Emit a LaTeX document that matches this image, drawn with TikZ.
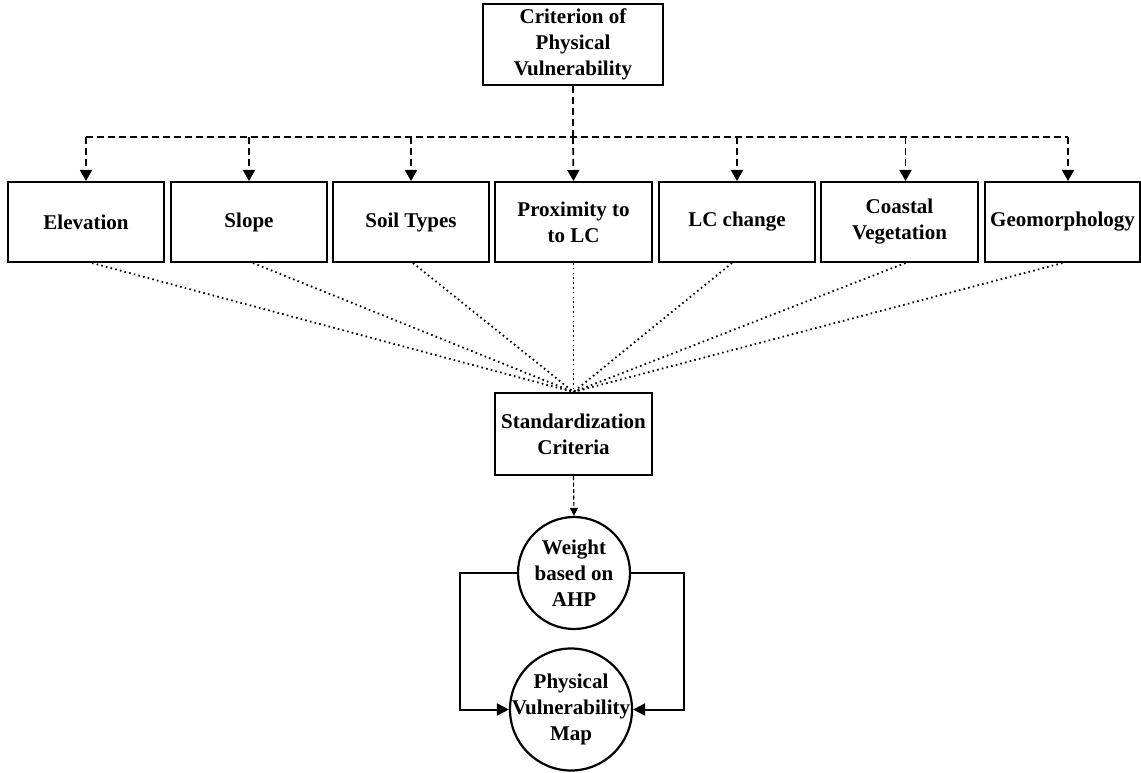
\documentclass[tikz,border=0pt]{standalone}
\usepackage{fontspec}
\setmainfont{Liberation Serif}
\usetikzlibrary{arrows.meta}
\begin{document}
\begin{tikzpicture}[x=1pt,y=-1pt,
  txt/.style={align=center, font=\bfseries\fontsize{21}{26}\selectfont, inner sep=0pt},
  box/.style={txt, draw, line width=2pt, minimum width=156pt, minimum height=80pt},
  circ/.style={draw, circle, line width=2.2pt, inner sep=0pt},
  dashline/.style={line width=1.8pt, dash pattern=on 7pt off 4pt},
  dasharrow/.style={dashline, -{Triangle[width=12pt,length=11pt]}},
  dotline/.style={line width=1.8pt, dash pattern=on 1.6pt off 3.2pt},
  thindash/.style={line width=1.2pt, dash pattern=on 4pt off 2.5pt, -{Triangle[width=8pt,length=8pt]}},
  solidarrow/.style={line width=2pt, -{Triangle[width=12pt,length=12pt]}}
]
\useasboundingbox (0,0) rectangle (1141,773);

\node[box, minimum width=180pt, minimum height=81pt] (top) at (573,44.5) {Criterion of\\Physical\\Vulnerability};

\node[box] (elev) at (86,222) {Elevation};
\node[box] (slope) at (249,222) {Slope};
\node[box] (soil) at (411,222) {Soil Types};
\node[box, minimum width=157pt] (prox) at (573.5,222) {Proximity to\\to LC};
\node[box] (lc) at (737,222) {LC change};
\node[box, minimum width=157pt] (coast) at (899.5,222) {Coastal\\Vegetation};
\node[box, minimum width=155pt] (geo) at (1062.5,222) {Geomorphology};

\node[box, minimum width=157pt, minimum height=82pt] (std) at (573.5,434) {Standardization\\Criteria};

\node[circ, minimum size=112pt, label={[txt]center:{Weight\\based on\\AHP}}] (w) at (574,573) {};
\node[circ, minimum size=122pt, label={[txt]center:{Physical\\Vulnerability\\Map}}] (p) at (571,709.5) {};

\coordinate (bus) at (573,137);
\coordinate (busL) at (86,137);
\coordinate (busR) at (1068,137);

% dashed tree
\draw[dashline] (top.south) -- (bus);
\draw[dashline] (busL) -- (busR);
\draw[dasharrow] (elev.north |- bus) -- (elev.north);
\draw[dasharrow] (slope.north |- bus) -- (slope.north);
\draw[dasharrow] (soil.north |- bus) -- (soil.north);
\draw[dasharrow] (bus) -- (prox.north);
\draw[dasharrow] (lc.north |- bus) -- (lc.north);
\draw[dasharrow] ([xshift=6pt]coast.north |- bus) -- ([xshift=6pt]coast.north);
\draw[dasharrow] (busR) -- (busR |- geo.north);

% dotted convergence
\draw[dotline] ([xshift=6pt]elev.south) -- (std.north);
\draw[dotline] ([xshift=4pt]slope.south) -- (std.north);
\draw[dotline] ([xshift=2pt]soil.south) -- (std.north);
\draw[dotline] (prox.south) -- (std.north);
\draw[dotline] ([xshift=-5pt]lc.south) -- (std.north);
\draw[dotline] ([xshift=6pt]coast.south) -- (std.north);
\draw[dotline] (geo.south) -- (std.north);

% lower part
\draw[thindash] (std.south) -- (w.north);
\draw[solidarrow] (w.west) -- ++(-57,0) |- (p.west);
\draw[solidarrow] (w.east) -- ++(53,0) |- (p.east);
\end{tikzpicture}
\end{document}
